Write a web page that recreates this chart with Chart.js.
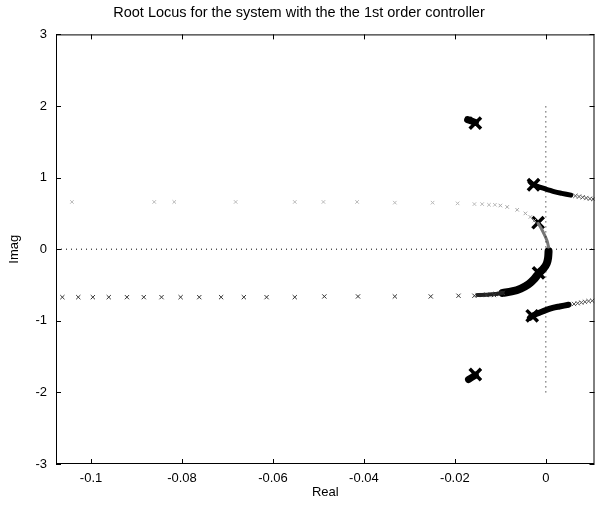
<!DOCTYPE html>
<html>
<head>
<meta charset="utf-8">
<script src="https://cdn.jsdelivr.net/npm/chart.js@4/dist/chart.umd.min.js"></script>
<style>
  html, body { margin: 0; padding: 0; background: #fff; }
  #wrap { width: 606px; height: 506px; }
</style>
</head>
<body>
<div id="wrap"><canvas id="c"></canvas></div>
<script>
// axis range and ticks
const xMin = -0.1077, xMax = 0.0107;
const xTicks = [-0.1, -0.08, -0.06, -0.04, -0.02, 0];
const yTicks = [-3, -2, -1, 0, 1, 2, 3];

// lower-left branch, x markers
const lowRowX = [-0.1063, -0.1028, -0.0996, -0.0961, -0.0921, -0.0884, -0.0845, -0.0803, -0.0762, -0.0714, -0.0664,
  -0.0614, -0.0552, -0.0487, -0.0413, -0.0332, -0.0253, -0.0192, -0.0157, -0.0131, -0.0114];
const lowRowY = [-0.67, -0.67, -0.67, -0.67, -0.67, -0.67, -0.67, -0.67, -0.67, -0.67, -0.67,
  -0.67, -0.67, -0.66, -0.66, -0.66, -0.66, -0.65, -0.65, -0.64, -0.64];

// upper-left branch (faint)
const upRowX = [-0.1042, -0.0861, -0.0817, -0.0682, -0.0552, -0.0489, -0.0415, -0.0332, -0.0249, -0.0194, -0.0157, -0.0140, -0.0125, -0.0112];
const upRowY = [0.66, 0.66, 0.66, 0.66, 0.66, 0.66, 0.66, 0.65, 0.65, 0.64, 0.63, 0.63, 0.62, 0.62];

// upper C curve (faint part and stem to real axis)
const upCurveX = [-0.0100, -0.0085, -0.0063, -0.0045, -0.0034, -0.0025];
const upCurveY = [0.61, 0.59, 0.55, 0.50, 0.45, 0.40];
const upStemX = [-0.0017, -0.0010, -0.0003, 0.0003, 0.0006];
const upStemY = [0.36, 0.29, 0.20, 0.11, 0.03];

// lower C curve (dense)
const lowCurveX = [0.0006, 0.0005, 0.0002, -0.0005, -0.0016, -0.0026, -0.0038, -0.0055, -0.0075, -0.0095];
const lowCurveY = [-0.03, -0.12, -0.20, -0.27, -0.34, -0.42, -0.49, -0.55, -0.59, -0.61];
const lowTailX = [-0.0095, -0.0110, -0.0130, -0.0150];
const lowTailY = [-0.61, -0.625, -0.635, -0.64];

// right branches
const upRightX = [-0.0035, -0.0027, -0.0010, 0.0005, 0.0020, 0.0035, 0.0055];
const upRightY = [0.94, 0.90, 0.86, 0.83, 0.80, 0.78, 0.755];
const upRightTailX = [0.0065, 0.0073, 0.0081, 0.0089, 0.0097, 0.0104];
const upRightTailY = [0.745, 0.735, 0.725, 0.715, 0.705, 0.70];
const lowRightX = [-0.0035, -0.0030, -0.0015, 0.0000, 0.0015, 0.0030, 0.0050];
const lowRightY = [-0.96, -0.93, -0.89, -0.85, -0.82, -0.80, -0.775];
const lowRightTailX = [0.0062, 0.0070, 0.0078, 0.0086, 0.0094, 0.0102];
const lowRightTailY = [-0.765, -0.755, -0.745, -0.735, -0.725, -0.72];

// far poles blobs
const topBlobX = [-0.0172, -0.0155];
const topBlobY = [1.81, 1.77];
const botBlobX = [-0.0170, -0.0155];
const botBlobY = [-1.82, -1.76];

// open loop poles
const poleX = [-0.0155, -0.0155, -0.0027, -0.0017, -0.0016, -0.0030];
const poleY = [1.76, -1.75, 0.90, 0.37, -0.33, -0.93];

// dotted reference lines
const hLineX = [xMin, xMax], hLineY = [0, 0];
const vLineX = [0, 0], vLineY = [-2, 2];

const pts = (xs, ys) => xs.map((x, i) => ({ x, y: ys[i] }));

function marks(xs, ys, color, r, w) {
  return { data: pts(xs, ys), showLine: false, pointStyle: 'crossRot', pointRadius: r,
    pointBorderColor: color, pointBorderWidth: w, pointBackgroundColor: color };
}
function band(xs, ys, color, w) {
  return { data: pts(xs, ys), showLine: true, borderColor: color, borderWidth: w,
    borderCapStyle: 'round', borderJoinStyle: 'round', pointRadius: 0, tension: 0.3 };
}
function dotted(xs, ys) {
  return { data: pts(xs, ys), showLine: true, borderColor: '#000', borderWidth: 1,
    borderDash: [1, 4], pointRadius: 0 };
}

const frame = {
  id: 'frame',
  afterDraw(chart) {
    const { ctx, chartArea: a, scales } = chart;
    ctx.save();
    ctx.strokeStyle = '#000'; ctx.lineWidth = 1;
    ctx.strokeRect(a.left + 0.5, a.top + 0.5, a.right - a.left - 1, a.bottom - a.top - 1);
    ctx.beginPath();
    xTicks.forEach(v => {
      const px = Math.round(scales.x.getPixelForValue(v)) + 0.5;
      ctx.moveTo(px, a.bottom); ctx.lineTo(px, a.bottom - 5);
      ctx.moveTo(px, a.top); ctx.lineTo(px, a.top + 5);
    });
    yTicks.forEach(v => {
      const py = Math.round(scales.y.getPixelForValue(v)) + 0.5;
      ctx.moveTo(a.left, py); ctx.lineTo(a.left + 5, py);
      ctx.moveTo(a.right, py); ctx.lineTo(a.right - 5, py);
    });
    ctx.stroke();
    ctx.restore();
  }
};

const font = { family: '"Liberation Sans", Arial, sans-serif', size: 13 };

new Chart(document.getElementById('c'), {
  type: 'scatter',
  data: {
    datasets: [
      dotted(hLineX, hLineY),
      dotted(vLineX, vLineY),
      marks(upRowX, upRowY, '#b8b8b8', 2.5, 1),
      marks(upCurveX, upCurveY, '#a8a8a8', 2.5, 1),
      band(upStemX, upStemY, '#777', 3),
      marks(lowRowX, lowRowY, '#333', 3, 1),
      band(lowTailX, lowTailY, '#222', 4),
      marks(lowTailX, lowTailY, '#444', 3, 1),
      band(lowCurveX, lowCurveY, '#000', 8),
      band(upRightX, upRightY, '#000', 5),
      marks(upRightTailX, upRightTailY, '#555', 3, 1),
      band(lowRightX, lowRightY, '#000', 6),
      marks(lowRightTailX, lowRightTailY, '#555', 3, 1),
      band(topBlobX, topBlobY, '#000', 7),
      band(botBlobX, botBlobY, '#000', 7),
      marks(poleX, poleY, '#000', 8, 3.5)
    ]
  },
  options: {
    responsive: true,
    maintainAspectRatio: false,
    animation: false,
    layout: { padding: { left: 0, right: 8, top: 0, bottom: 0 } },
    plugins: {
      legend: { display: false },
      tooltip: { enabled: false },
      title: { display: true, text: 'Root Locus for the system with the the 1st order controller',
        color: '#000', font: { ...font, size: 14.5, weight: 'normal' }, padding: { top: 4, bottom: 13 } }
    },
    scales: {
      x: {
        type: 'linear', min: xMin, max: xMax,
        afterBuildTicks: s => { s.ticks = xTicks.map(v => ({ value: v })); },
        afterFit: s => { s.height = 42; s.paddingLeft = 0; s.paddingRight = 0; },
        grid: { display: false, drawTicks: false },
        border: { display: false },
        ticks: { color: '#000', font, padding: 7, maxRotation: 0, callback: v => String(v) },
        title: { display: true, text: 'Real', color: '#000', font, padding: { top: 0, bottom: 6 } }
      },
      y: {
        type: 'linear', min: -3, max: 3,
        afterBuildTicks: s => { s.ticks = yTicks.map(v => ({ value: v })); },
        afterFit: s => { s.width = 56; s.paddingTop = 0; s.paddingBottom = 0; },
        grid: { display: false, drawTicks: false },
        border: { display: false },
        ticks: { color: '#000', font, padding: 9, callback: v => String(v) },
        title: { display: true, text: 'Imag', color: '#000', font, padding: { top: 7, bottom: 0 } }
      }
    }
  },
  plugins: [frame]
});
</script>
</body>
</html>
